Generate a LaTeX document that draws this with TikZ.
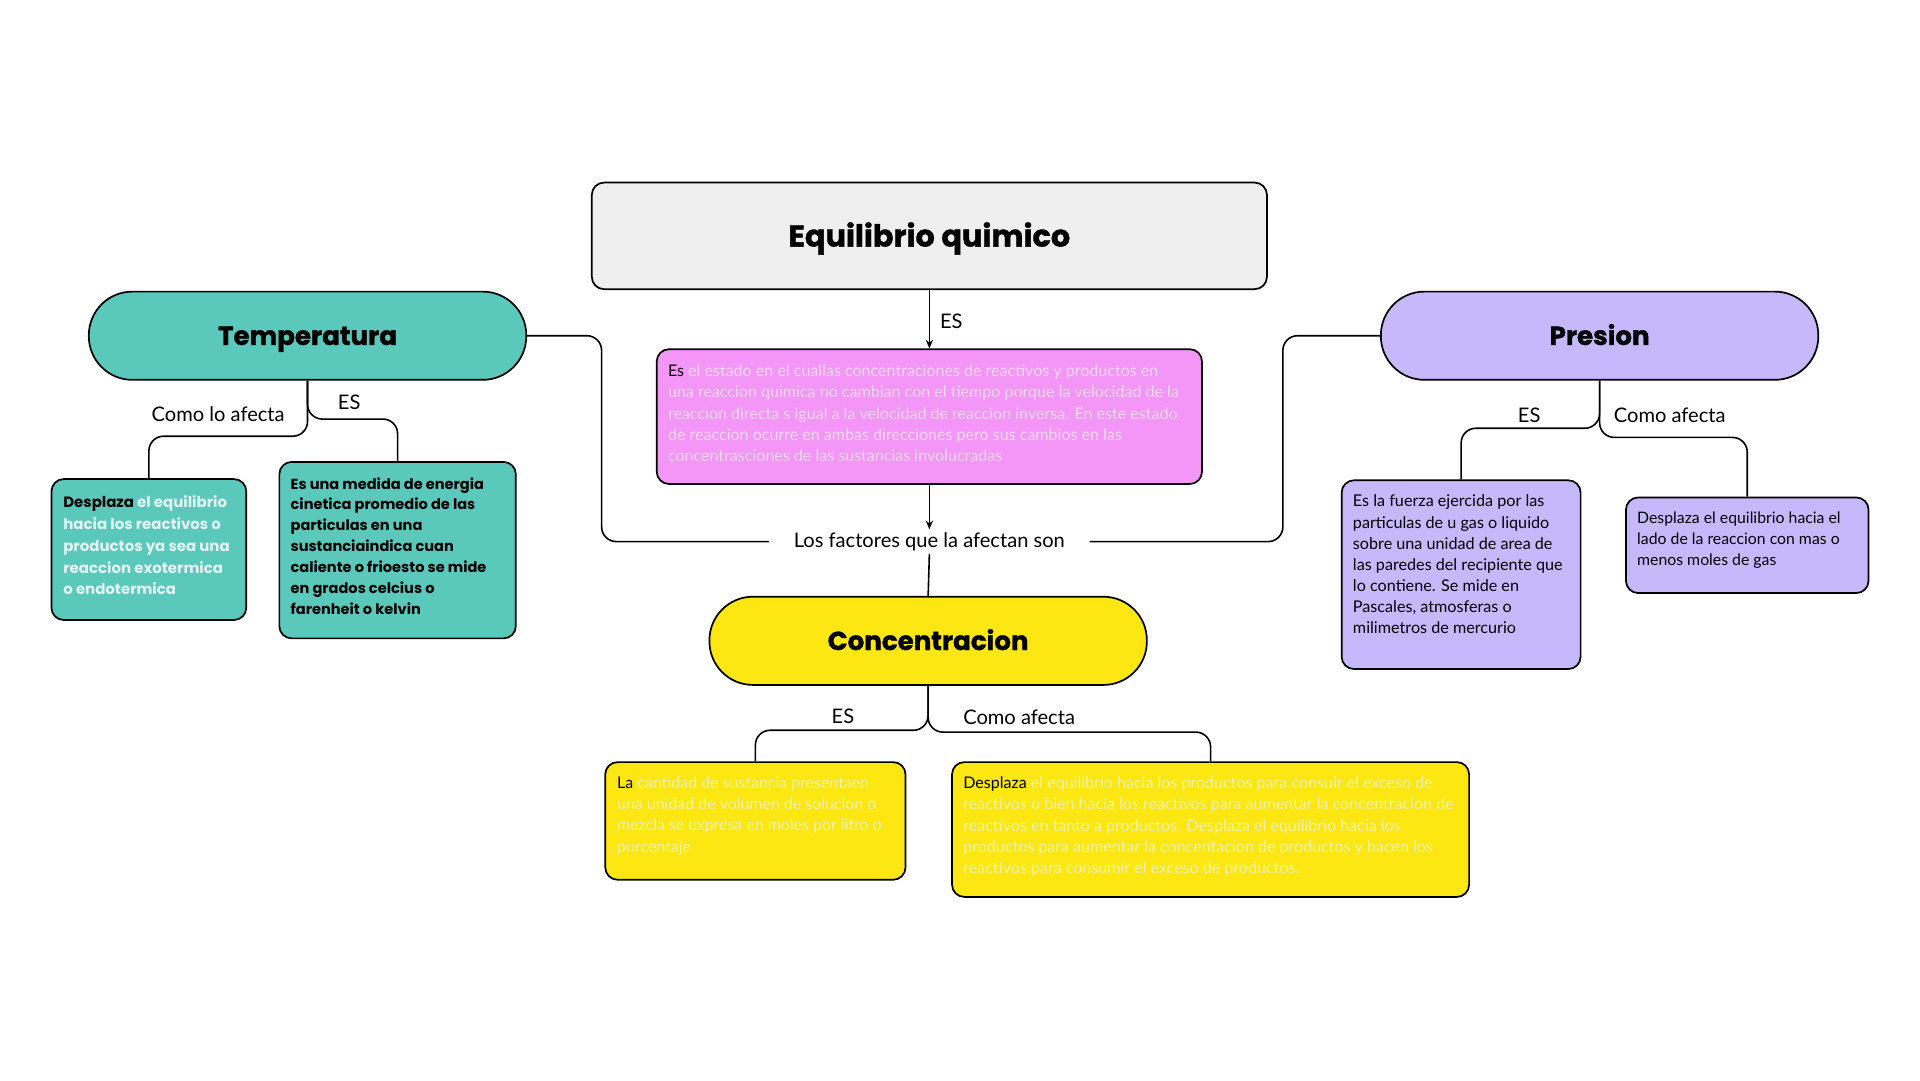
\documentclass[tikz,border=0pt]{standalone}
\usepackage{fontspec}
\setmainfont{Lato}
\newfontfamily\popfont{Poppins}[BoldFeatures={FakeBold=1.2}]
\newfontfamily\popplain{Poppins}
\usetikzlibrary{arrows.meta}
\definecolor{titlefill}{HTML}{EFEFEF}
\definecolor{pinkfill}{HTML}{F496F8}
\definecolor{pinktext}{HTML}{FAD8FB}
\definecolor{tealfill}{HTML}{5BC8BC}
\definecolor{tealtext}{HTML}{E4F6F3}
\definecolor{lavfill}{HTML}{C5B9FC}
\definecolor{yelfill}{HTML}{FDE712}
\definecolor{yeltext}{HTML}{FFF3A8}
\newcommand\headfont{\popfont\bfseries\fontsize{21.3}{26}\selectfont}
\newcommand\titlefont{\popfont\bfseries\fontsize{24.8}{30}\selectfont}
\begin{document}
\begin{tikzpicture}[x=1pt,y=-1pt,
  box/.style={draw=black,line width=1.4pt,rounded corners=10pt,inner sep=0pt},
  pill/.style={draw=black,line width=1.4pt,rounded corners=35.5pt,minimum width=357pt,minimum height=72pt,inner sep=0pt,font=\headfont,text height=15pt,text depth=0pt},
  conn/.style={draw=black,line width=1.3pt,rounded corners=12pt},
  tip/.style={-{Stealth[length=7pt,width=6pt]}},
  lbl/.style={inner sep=0pt,font=\fontsize{16.4}{19}\selectfont},
  txt/.style={inner sep=0pt,align=left,anchor=north west},
  regtxt/.style 2 args={txt,font=\fontsize{#1}{#2}\selectfont},
  boldtxt/.style 2 args={txt,font=\popplain\bfseries\fontsize{#1}{#2}\selectfont},
]
\useasboundingbox (0,0) rectangle (1567,881.5);
\fill[white] (0,0) rectangle (1567,881.5);

% main nodes
\node[box,fill=titlefill,minimum width=551pt,minimum height=87pt,font=\titlefont,text height=17.5pt,text depth=0pt] (title) at (758.5,192.5) {Equilibrio quimico};
\node[box,fill=pinkfill,minimum width=445pt,minimum height=110pt] (pink) at (758.5,340) {};
\node[pill,fill=tealfill] (temp) at (251,274) {Temperatura};
\node[pill,fill=lavfill] (pres) at (1305.5,274) {Presion};
\node[pill,fill=yelfill] (conc) at (757.5,523) {Concentracion};
\node[lbl,inner xsep=20pt,inner ysep=2.5pt] (factors) at (758.5,442) {Los factores que la afectan son};

% child boxes
\node[box,fill=tealfill,minimum width=159pt,minimum height=115pt] (tl) at (121.5,448.5) {};
\node[box,fill=tealfill,minimum width=193pt,minimum height=144pt] (tr) at (324.5,449) {};
\node[box,fill=lavfill,minimum width=195pt,minimum height=154pt] (pl) at (1192.5,469) {};
\node[box,fill=lavfill,minimum width=198pt,minimum height=78pt] (pr) at (1426,445) {};
\node[box,fill=yelfill,minimum width=245pt,minimum height=96pt] (yl) at (616.5,670) {};
\node[box,fill=yelfill,minimum width=422pt,minimum height=110pt] (yr) at (988,677) {};

% texts
\node[regtxt={13.1}{17.4},text=pinktext] (pinkt) at (545,297.5) {\textcolor{black}{Es} el estado en el cuallas concentraciones de reactivos y productos en\\
una reaccion quimica no cambian con el tiempo porque la velocidad de la\\
reaccion directa s igual a la velocidad de reaccion inversa. En este estado\\
de reaccion ocurre en ambas direcciones pero sus cambios en las\\
concentrasciones de las sustancias involucradas};

\node[boldtxt={12.2}{17.8},text=tealtext] (tlt) at (51.5,404.3) {\textcolor{black}{Desplaza} el equilibrio\\
hacia los reactivos o\\
productos ya sea una\\
reaccion exotermica\\
o endotermica};

\node[boldtxt={11.9}{17.0},text=black] (trt) at (237,389.4) {Es una medida de energia\\
cinetica promedio de las\\
particulas en una\\
sustanciaindica cuan\\
caliente o frioesto se mide\\
en grados celcius o\\
farenheit o kelvin};

\node[regtxt={13.2}{17.2},text=black] (plt) at (1104,403.8) {Es la fuerza ejercida por las\\
particulas de u gas o liquido\\
sobre una unidad de area de\\
las paredes del recipiente que\\
lo contiene. Se mide en\\
Pascales, atmosferas o\\
milimetros de mercurio};

\node[regtxt={12.9}{17.0},text=black] (prt) at (1336,417.8) {Desplaza el equilibrio hacia el\\
lado de la reaccion con mas o\\
menos moles de gas};

\node[regtxt={13.0}{17.3},text=yeltext] (ylt) at (503.5,633.8) {\textcolor{black}{La} cantidad de sustancia presentaen\\
una unidad de volumen de solucion o\\
mezcla se expresa en moles por litro o\\
porcentaje};

\node[regtxt={13.1}{17.3},text=yeltext] (yrt) at (786,633.8) {\textcolor{black}{Desplaza} el equilibrio hacia los productos para consuir el exceso de\\
reactivos o bien hacia los reactivos para aumentar la concentracion de\\
reactivos en tanto a productos. Desplaza el equilibrio hacia los\\
productos para aumentar la concentacion de productos y hacen los\\
reactivos para consumir el exceso de productos.};

% connectors
\draw[conn,tip] (title.south) -- (pink.north);
\node[lbl,anchor=west] (es0) at (767,262) {ES};
\draw[conn,tip] (pink.south) -- (factors.north);
\draw[conn] (factors.south) -- (conc.north);
\draw[conn] (temp.east) -- (491,274) |- (factors.west);
\draw[conn] (pres.west) -- (1047,274) |- (factors.east);

\draw[conn] (temp.south) |- (tl.north |- 0,356) -- (tl.north);
\draw[conn] (temp.south) |- (tr.north |- 0,342) -- (tr.north);
\node[lbl,anchor=east] (c1) at (232.5,338) {Como lo afecta};
\node[lbl] (e1) at (285,328.5) {ES};

\draw[conn] (pres.south) |- (pl.north |- 0,349.5) -- (pl.north);
\draw[conn] (pres.south) |- (pr.north |- 0,357) -- (pr.north);
\node[lbl] (e2) at (1248,339) {ES};
\node[lbl,anchor=west] (c2) at (1317,339) {Como afecta};

\draw[conn] (conc.south) |- (yl.north |- 0,596) -- (yl.north);
\draw[conn] (conc.south) |- (yr.north |- 0,597.5) -- (yr.north);
\node[lbl] (e3) at (688,585) {ES};
\node[lbl,anchor=west] (c3) at (786,585) {Como afecta};
\end{tikzpicture}
\end{document}
